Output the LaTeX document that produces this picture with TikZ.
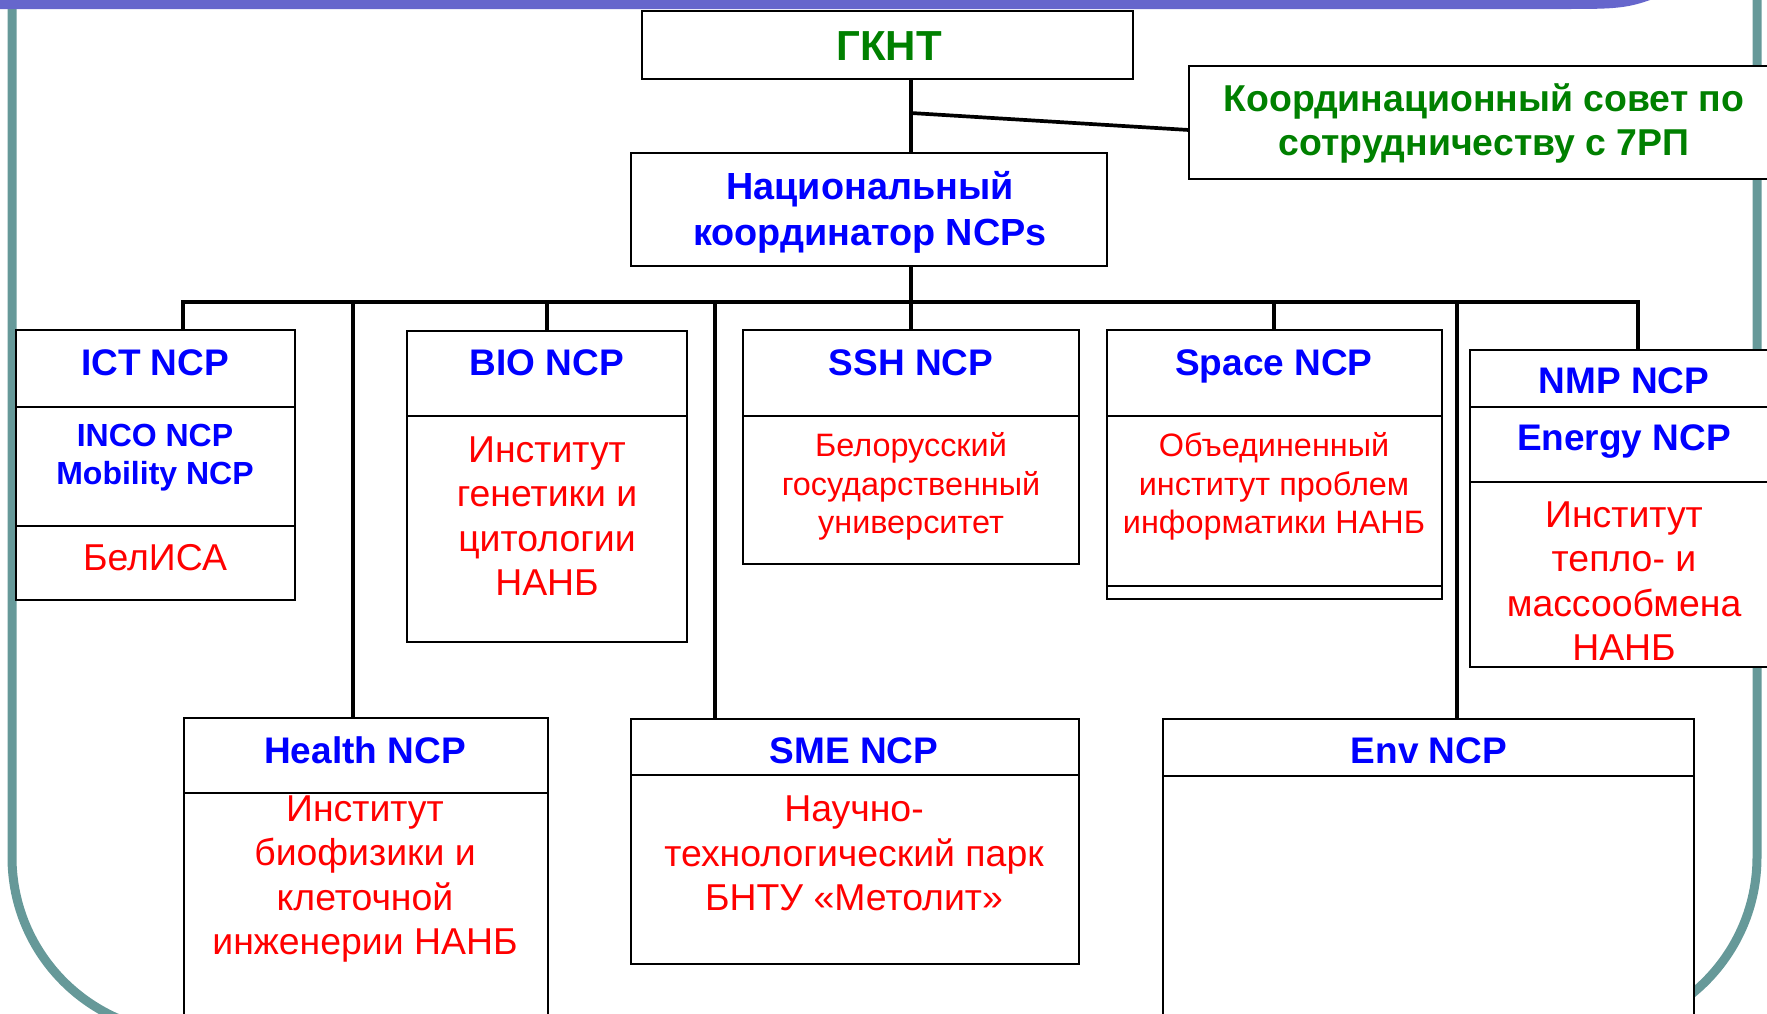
\documentclass[tikz,border=0pt]{standalone}
\usepackage{fontspec}
\setmainfont{Liberation Sans}
\definecolor{framec}{HTML}{669999}
\definecolor{barc}{HTML}{6666CC}
\definecolor{grn}{HTML}{008000}
\definecolor{blu}{HTML}{0000FF}
\definecolor{rd}{HTML}{FF0000}
\newcommand{\comp}[5]{\node[cbox, minimum width={(#4)-(#2)}, minimum height={(#5)-(#3)}] (#1) at ({((#2)+(#4))/2},{((#3)+(#5))/2}) {};}
\tikzset{
  cbox/.style={draw, line width=2pt, fill=white, rectangle, inner sep=0pt, outer sep=0pt},
  conn/.style={line width=3.7pt, line join=miter},
  txt/.style={inner sep=0pt, align=center, execute at begin node=\strut, execute at end node=\strut},
  hd/.style={txt, text=blu, font=\fontsize{37}{46}\selectfont\bfseries},
  hdn/.style={txt, text=blu, font=\fontsize{37.8}{46}\selectfont\bfseries},
  sub/.style={txt, text=blu, font=\fontsize{32}{38}\selectfont\bfseries},
  gt/.style={txt, text=grn, font=\fontsize{37.4}{44}\selectfont\bfseries},
  rbig/.style={txt, text=rd, font=\fontsize{37.4}{44.5}\selectfont},
  rsml/.style={txt, text=rd, font=\fontsize{32.4}{38.5}\selectfont},
}
\begin{document}
\begin{tikzpicture}[x=1pt,y=-1pt]
\useasboundingbox (0,0) rectangle (1767,1013);
\clip (0,0) rectangle (1767,1013);
\fill[white] (0,0) rectangle (1767,1013);
% frame
\draw[framec, line width=9pt, rounded corners=176pt] (12,9) -- (12,1033) -- (1757,1033) -- (1757,-5);
\fill[barc] (0,0) -- (1650,0) .. controls (1625,9) and (1610,9) .. (1560,9) -- (0,9) -- cycle;

% compartments
\comp{gknt}{642}{11}{1133}{79}
\comp{coord}{1189}{66}{1790}{179}
\comp{nac}{631}{153}{1107}{266}
\comp{ict}{16}{330}{295}{407}
\comp{ictb}{16}{407}{295}{526}
\comp{ictc}{16}{526}{295}{600}
\comp{bio}{407}{331}{687}{416}
\comp{biob}{407}{416}{687}{642}
\comp{ssh}{743}{330}{1079}{416}
\comp{sshb}{743}{416}{1079}{564}
\comp{space}{1107}{330}{1442}{416}
\comp{spaceb}{1107}{416}{1442}{586}
\comp{spacec}{1107}{586}{1442}{599}
\comp{nmp}{1470}{350}{1790}{407}
\comp{nmpb}{1470}{407}{1790}{482}
\comp{nmpc}{1470}{482}{1790}{667}
\comp{health}{184}{718}{548}{793}
\comp{healthb}{184}{793}{548}{1040}
\comp{sme}{631}{719}{1079}{775}
\comp{smeb}{631}{775}{1079}{964}
\comp{env}{1163}{719}{1694}{776}
\comp{envb}{1163}{776}{1694}{1040}

% connectors
\coordinate (split) at (911,113);
\coordinate (busc) at (911,302);
\coordinate (bL) at (183,302);
\coordinate (bR) at (1638,302);
\coordinate (dHealth) at (353,302);
\coordinate (dBio) at (547,302);
\coordinate (dSme) at (715,302);
\coordinate (dSpace) at (1274,302);
\coordinate (dEnv) at (1457,302);
\draw[conn] (gknt.south -| split) -- (nac.north -| split);
\draw[conn] (split) -- (coord.west |- 0,130);
\draw[conn] (nac.south -| busc) -- (busc);
\draw[conn] (ict.north -| bL) -- (bL) -- (bR) -- (nmp.north -| bR);
\draw[conn] (dHealth) -- (health.north -| dHealth);
\draw[conn] (dBio) -- (bio.north -| dBio);
\draw[conn] (dSme) -- (sme.north -| dSme);
\draw[conn] (busc) -- (ssh.north -| busc);
\draw[conn] (dSpace) -- (space.north -| dSpace);
\draw[conn] (dEnv) -- (env.north -| dEnv);

% texts
\node[txt, text=grn, font=\fontsize{42}{50}\selectfont\bfseries] (tgknt) at (889,50) {ГКНТ};
\node[gt] (tcoord) at (1484,126) {Координационный совет по\\сотрудничеству с 7РП};
\node[hdn] (tnac) at (870,215) {Национальный\\координатор NCPs};
\node[hd] (tict) at (155,366) {ICT NCP};
\node[sub] (tictb) at (155,460) {INCO NCP\\Mobility NCP};
\node[rbig] (tictc) at (155,562) {БелИСА};
\node[hd] (tbio) at (547,366) {BIO NCP};
\node[rbig] (tbiob) at (547,523) {Институт\\генетики и\\цитологии\\НАНБ};
\node[hd] (tssh) at (911,366) {SSH NCP};
\node[rsml] (tsshb) at (911,489) {Белорусский\\государственный\\университет};
\node[hd] (tspace) at (1274,366) {Space NCP};
\node[rsml] (tspaceb) at (1274,489) {Объединенный\\институт проблем\\информатики НАНБ};
\node[hd] (tnmp) at (1624,384) {NMP NCP};
\node[hd] (tnmpb) at (1624,441) {Energy NCP};
\node[rbig] (tnmpc) at (1624,588) {Институт\\тепло- и\\массообмена\\НАНБ};
\node[hd] (thealth) at (365,754) {Health NCP};
\node[rbig] (thealthb) at (365,882) {Институт\\биофизики и\\клеточной\\инженерии НАНБ};
\node[hd] (tsme) at (854,754) {SME NCP};
\node[rbig] (tsmeb) at (854,860) {Научно-\\технологический парк\\БНТУ «Метолит»};
\node[hd] (tenv) at (1429,754) {Env NCP};
\end{tikzpicture}
\end{document}
